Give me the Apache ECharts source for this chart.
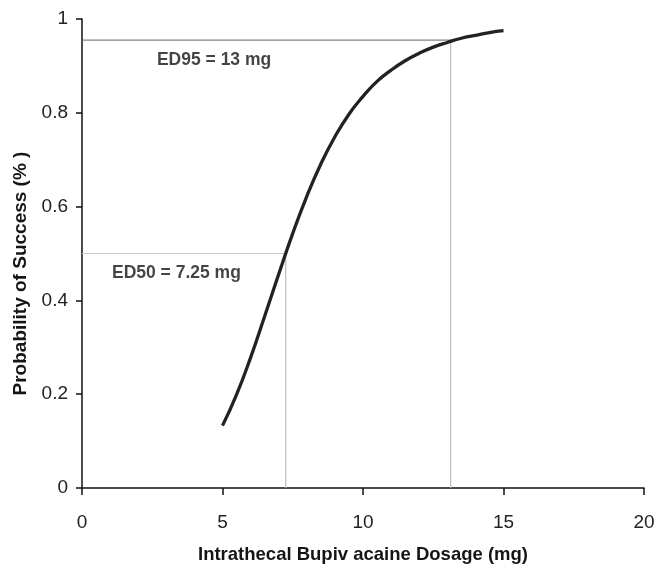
<!DOCTYPE html>
<html>
<head>
<meta charset="utf-8">
<script src="https://cdn.jsdelivr.net/npm/echarts@6/dist/echarts.min.js"></script>
<style>html,body{margin:0;padding:0;background:#fff}#c{width:664px;height:578px}</style>
</head>
<body>
<div id="c"></div>
<script>
// Dose (mg) and probability of success
var doses = [5, 5.5, 6, 6.5, 7, 7.5, 8, 8.5, 9, 9.5, 10, 10.5, 11, 11.5, 12, 12.5, 13, 13.5, 14, 14.5, 15];
var probs = [0.133, 0.199, 0.278, 0.366, 0.456, 0.543, 0.622, 0.691, 0.749, 0.797, 0.835, 0.867, 0.891, 0.911, 0.927, 0.940, 0.950, 0.959, 0.965, 0.971, 0.975];
var xTicks = [0, 5, 10, 15, 20];
var yTicks = [0, 0.2, 0.4, 0.6, 0.8, 1];
var ed50 = [7.25, 0.5];
var ed95 = [13.12, 0.955];
var ed50Label = 'ED50 = 7.25 mg';
var ed95Label = 'ED95 = 13 mg';

var FONT = '"Liberation Sans Narrow", "Arial Narrow", "Liberation Sans", Arial, sans-serif';
var curve = doses.map(function (d, i) { return [d, probs[i]]; });

var chart = echarts.init(document.getElementById('c'));
chart.setOption({
  animation: false,
  grid: { left: 82, right: 20, top: 19, bottom: 90 },
  xAxis: {
    type: 'value', min: 0, max: 20, interval: 5,
    name: 'Intrathecal Bupiv acaine Dosage (mg)',
    nameLocation: 'middle', nameGap: 57,
    nameTextStyle: { fontFamily: FONT, fontWeight: 'bold', fontSize: 18.5, color: '#151515' },
    axisLine: { lineStyle: { color: '#111', width: 1.5 } },
    axisTick: { show: true, inside: false, length: 7, lineStyle: { color: '#111', width: 1.5 } },
    axisLabel: { margin: 25, fontFamily: FONT, fontSize: 19, color: '#222',
      formatter: function (v) { return xTicks.indexOf(v) >= 0 ? String(v) : ''; } },
    splitLine: { show: false }
  },
  yAxis: {
    type: 'value', min: 0, max: 1, interval: 0.2,
    name: 'Probability of Success (% )',
    nameLocation: 'middle', nameGap: 49,
    nameTextStyle: { fontFamily: '"Liberation Sans", Arial, sans-serif', fontWeight: 'bold', fontSize: 19,
      color: '#151515', padding: [0, 40, 0, 0] },
    axisLine: { show: true, lineStyle: { color: '#111', width: 1.5 } },
    axisTick: { show: true, inside: false, length: 6, lineStyle: { color: '#111', width: 1.5 } },
    axisLabel: { margin: 14, fontFamily: FONT, fontSize: 19, color: '#222',
      formatter: function (v) {
        for (var i = 0; i < yTicks.length; i++) if (Math.abs(yTicks[i] - v) < 1e-9) return String(yTicks[i]);
        return '';
      } },
    splitLine: { show: false }
  },
  series: [
    { type: 'line', data: [[0, ed95[1]], [ed95[0], ed95[1]]], symbol: 'none', silent: true,
      lineStyle: { color: '#666', width: 1 } },
    { type: 'line', data: [[ed95[0], ed95[1]], [ed95[0], 0]], symbol: 'none', silent: true,
      lineStyle: { color: '#bbb', width: 1.2 } },
    { type: 'line', data: [[0, ed50[1]], [ed50[0], ed50[1]]], symbol: 'none', silent: true,
      lineStyle: { color: '#c8c8c8', width: 1.2 } },
    { type: 'line', data: [[ed50[0], ed50[1]], [ed50[0], 0]], symbol: 'none', silent: true,
      lineStyle: { color: '#bbb', width: 1.2 } },
    { type: 'line', data: curve, symbol: 'none', smooth: true, z: 5,
      lineStyle: { color: '#222', width: 3.3 } },
    { type: 'scatter', symbolSize: 0, silent: true, z: 6,
      data: [
        { value: [4.7, 0.913], label: { formatter: ed95Label } },
        { value: [3.36, 0.458], label: { formatter: ed50Label } }
      ],
      label: { show: true, position: 'inside', fontFamily: FONT, fontWeight: 'bold', fontSize: 17.5, color: '#151515' } }
  ]
});
</script>
</body>
</html>
